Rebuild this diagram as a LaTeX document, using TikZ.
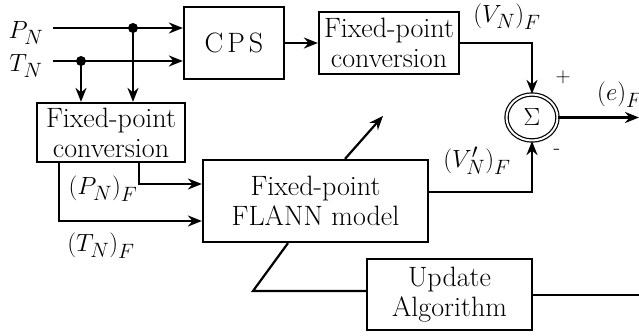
\documentclass[tikz,border=0pt]{standalone}
\usetikzlibrary{arrows.meta,shapes.geometric,calc}
\begin{document}
\begin{tikzpicture}[x=1pt,y=-1pt,
  wire/.style={line width=2.2pt},
  arr/.style={wire,-{Stealth[length=14pt,width=11pt,inset=4.5pt]}},
  blk/.style={draw,line width=2.2pt,align=center,inner sep=0pt,
    font=\fontsize{28}{30}\selectfont},
  lbl/.style={inner sep=0pt,font=\fontsize{28}{30}\selectfont},
  sgn/.style={inner sep=0pt,font=\fontsize{22}{24}\selectfont},
  dot/.style={circle,fill,inner sep=0pt,minimum size=10pt}]
\useasboundingbox (0,0) rectangle (639,336);

% blocks
\node[blk,minimum width=100pt,minimum height=72pt] (cps) at (234,43) {C\hspace{4pt}P\hspace{4pt}S};
\node[blk,minimum width=140pt,minimum height=62pt] (conv1) at (389,43) {Fixed-point\\conversion};
\node[blk,minimum width=148pt,minimum height=59pt] (conv2) at (111,132.5) {Fixed-point\\conversion};
\node[blk,minimum width=225pt,minimum height=82pt] (flann) at (315.5,201) {Fixed-point\\FLANN model};
\node[blk,minimum width=165pt,minimum height=71pt] (upd) at (449.5,294.5) {Update\\Algorithm};
\node[ellipse,draw,line width=1.2pt,double,double distance=2pt,
  minimum width=51pt,minimum height=46pt,inner sep=0pt,
  font=\fontsize{26}{29}\selectfont] (sum) at (532,117.5) {$\Sigma$};

% inputs
\coordinate (pin) at (53,28);
\coordinate (tin) at (53,61);
\node[lbl] (plbl) at (26,33) {$P_N$};
\node[lbl] (tlbl) at (26,66) {$T_N$};
\node[dot] (jp) at (133,28) {};
\node[dot] (jt) at (81,61) {};

\draw[arr] (pin) -- (pin -| cps.west);
\draw[arr] (tin) -- (tin -| cps.west);
\draw[arr] (jp.center) -- (jp |- conv2.north);
\draw[arr] (jt.center) -- (jt |- conv2.north);

% upper path to the summing junction
\draw[arr] (cps) -- (conv1);
\draw[arr] (conv1.east) -| (sum.north);
\node[lbl] (vnf) at (507,17) {$\bigl(V_N\bigr)_F$};
\node[sgn] (plus) at (563,77) {$+$};

% fixed-point inputs of the model
\draw[arr] (conv2.south -| 139,0) |- ([yshift=17pt]flann.west);
\draw[arr] (conv2.south -| 59,0) |- ([yshift=-20pt]flann.west);
\node[lbl] (pnf) at (103,189) {$\bigl(P_N\bigr)_F$};
\node[lbl] (tnf) at (101,246) {$\bigl(T_N\bigr)_F$};

% model output to the summing junction
\draw[arr] ([yshift=9pt]flann.east) -| (sum.south);
\node[lbl] (vpnf) at (477,161) {$\bigl(V'_N\bigr)_F$};
\node[sgn] (minus) at (557,152) {-};

% error output
\coordinate (eout) at (639,117.5);
\draw[arr] (sum.east) -- (eout);
\node[lbl,anchor=west] (ef) at (597,95) {$\bigl(e\bigr)_F$};

% adaptation
\draw[arr] (flann.north -| 345,0) -- ++(38,-43);
\draw[wire] (flann.south -| 288,0) -- (253,291) -- ([yshift=3.5pt]upd.west);
\coordinate (uout) at (639,295);
\draw[wire] ([yshift=-0.5pt]upd.east) -- (uout);
\end{tikzpicture}
\end{document}
